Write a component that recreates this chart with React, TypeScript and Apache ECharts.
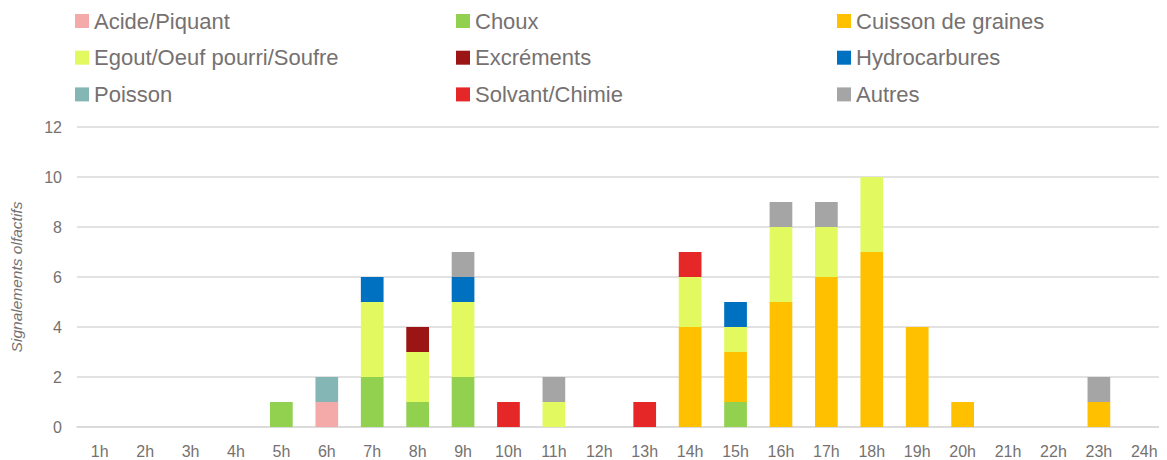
import React, { useEffect, useRef } from "react";
import * as echarts from "echarts";

const hours = ["1h","2h","3h","4h","5h","6h","7h","8h","9h","10h","11h","12h","13h","14h","15h","16h","17h","18h","19h","20h","21h","22h","23h","24h"];

const acide      = [0,0,0,0,0,1,0,0,0,0,0,0,0,0,0,0,0,0,0,0,0,0,0,0];
const choux      = [0,0,0,0,1,0,2,1,2,0,0,0,0,0,1,0,0,0,0,0,0,0,0,0];
const cuisson    = [0,0,0,0,0,0,0,0,0,0,0,0,0,4,2,5,6,7,4,1,0,0,1,0];
const egout      = [0,0,0,0,0,0,3,2,3,0,1,0,0,2,1,3,2,3,0,0,0,0,0,0];
const excrements = [0,0,0,0,0,0,0,1,0,0,0,0,0,0,0,0,0,0,0,0,0,0,0,0];
const hydro      = [0,0,0,0,0,0,1,0,1,0,0,0,0,0,1,0,0,0,0,0,0,0,0,0];
const poisson    = [0,0,0,0,0,1,0,0,0,0,0,0,0,0,0,0,0,0,0,0,0,0,0,0];
const solvant    = [0,0,0,0,0,0,0,0,0,1,0,0,1,1,0,0,0,0,0,0,0,0,0,0];
const autres     = [0,0,0,0,0,0,0,0,1,0,1,0,0,0,0,1,1,0,0,0,0,0,1,0];

const seriesDefs = [
  { name: "Acide/Piquant", data: acide, color: "#F4AAA9" },
  { name: "Choux", data: choux, color: "#92D050" },
  { name: "Cuisson de graines", data: cuisson, color: "#FFC000" },
  { name: "Egout/Oeuf pourri/Soufre", data: egout, color: "#E2FA60" },
  { name: "Excréments", data: excrements, color: "#9B1515" },
  { name: "Hydrocarbures", data: hydro, color: "#0070C0" },
  { name: "Poisson", data: poisson, color: "#85B6B6" },
  { name: "Solvant/Chimie", data: solvant, color: "#E62727" },
  { name: "Autres", data: autres, color: "#A5A5A5" },
];

const legendCols = [
  ["Acide/Piquant", "Egout/Oeuf pourri/Soufre", "Poisson"],
  ["Choux", "Excréments", "Solvant/Chimie"],
  ["Cuisson de graines", "Hydrocarbures", "Autres"],
];
const legendLefts = [75, 456, 837];

const FONT = "'Liberation Sans', Arial, sans-serif";
const TXT = "#767170";

export default function App() {
  const ref = useRef<HTMLDivElement>(null);
  useEffect(() => {
    if (!ref.current) return;
    const chart = echarts.init(ref.current, null, { renderer: "svg" });
    chart.setOption({
      animation: false,
      textStyle: { fontFamily: FONT },
      legend: legendCols.map((col, i) => ({
        data: col,
        orient: "vertical",
        left: legendLefts[i],
        top: 9,
        padding: 0,
        icon: "rect",
        itemWidth: 14,
        itemHeight: 14,
        itemGap: 12.7,
        itemTextGap: 6,
        selectedMode: false,
        textStyle: { fontFamily: FONT, fontSize: 22, color: TXT, lineHeight: 24 },
      })),
      grid: { left: 77, right: -7, top: 127, bottom: 33, containLabel: false },
      xAxis: {
        type: "category",
        data: hours,
        axisLine: { lineStyle: { color: "#D9D9D9", width: 1.5 } },
        axisTick: { show: false },
        axisLabel: { fontFamily: FONT, fontSize: 16, color: TXT, margin: 16 },
      },
      yAxis: {
        type: "value",
        min: 0,
        max: 12,
        interval: 2,
        name: "Signalements olfactifs",
        nameLocation: "middle",
        nameGap: 53,
        nameTextStyle: { fontFamily: FONT, fontSize: 15.5, fontStyle: "italic", color: TXT },
        axisLine: { show: false },
        axisTick: { show: false },
        axisLabel: { fontFamily: FONT, fontSize: 16, color: TXT, margin: 15 },
        splitLine: { lineStyle: { color: "#D9D9D9", width: 1.5 } },
      },
      series: seriesDefs.map((s) => ({
        name: s.name,
        type: "bar",
        stack: "total",
        barWidth: "50%",
        data: s.data.map((v) => (v === 0 ? null : v)),
        itemStyle: { color: s.color },
      })),
    });
    return () => chart.dispose();
  }, []);
  return <div ref={ref} style={{ width: 1167, height: 460, marginLeft: -8, marginTop: -8 }} />;
}
